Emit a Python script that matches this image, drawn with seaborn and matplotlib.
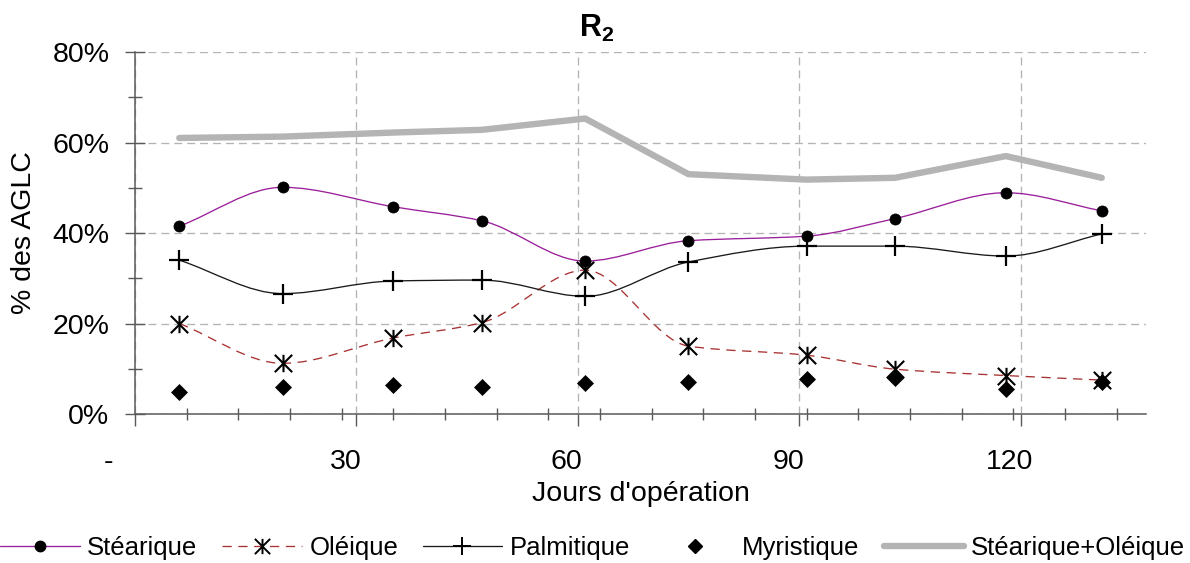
import numpy as np
import matplotlib
matplotlib.use("Agg")
import matplotlib.pyplot as plt
import matplotlib.transforms as mtransforms
from matplotlib.path import Path
from matplotlib.patches import PathPatch
from matplotlib.lines import Line2D
from matplotlib.ticker import FixedLocator, MultipleLocator, FuncFormatter
import seaborn as sns

# Sampling days and fatty-acid shares (% of total AGLC)
jours = [6, 20, 35, 47, 61, 75, 91, 103, 118, 131]
stearique = [41.5, 50.1, 45.8, 42.7, 33.8, 38.3, 39.3, 43.2, 48.9, 44.9]
oleique = [20.0, 11.2, 16.8, 20.2, 31.8, 15.0, 13.0, 9.9, 8.5, 7.5]
palmitique = [34.0, 26.6, 29.4, 29.6, 26.0, 33.6, 37.1, 37.1, 34.9, 39.8]
myristique = [4.9, 6.0, 6.4, 5.9, 6.8, 7.1, 7.7, 7.9, 5.5, 7.0]
stearique_oleique = [61.0, 61.3, 62.2, 62.8, 65.3, 53.0, 51.8, 52.2, 57.0, 52.2]

x_ticks = [0, 30, 60, 90, 120]
x_ticklabels = ["-", "30", "60", "90", "120"]
y_ticks = [0, 20, 40, 60, 80]

sns.set_style("white")
plt.rcParams["font.family"] = ["Liberation Sans", "DejaVu Sans"]
plt.rcParams["mathtext.fontset"] = "custom"
plt.rcParams["mathtext.rm"] = "Liberation Sans"
plt.rcParams["mathtext.bf"] = "Liberation Sans:bold"
plt.rcParams["text.color"] = "black"
plt.rcParams["axes.labelcolor"] = "black"
plt.rcParams["xtick.color"] = "black"
plt.rcParams["ytick.color"] = "black"

PURPLE = "#9a1f9a"
DARKRED = "#a83232"
GREY = "#b4b4b4"
AXIS = "#5a5a5a"

fig = plt.figure(figsize=(11.9, 5.63), dpi=100)
ax = fig.add_axes([0.11345, 0.26465, 0.8496, 0.64298])


def smooth_path(x, y):
    """Cubic Bezier path through the points, with shape-preserving tangents."""
    x = np.asarray(x, float)
    y = np.asarray(y, float)
    h = np.diff(x)
    d = np.diff(y) / h
    m = np.zeros_like(y)
    for i in range(1, len(y) - 1):
        if d[i - 1] * d[i] > 0:
            w1 = 2 * h[i] + h[i - 1]
            w2 = h[i] + 2 * h[i - 1]
            m[i] = (w1 + w2) / (w1 / d[i - 1] + w2 / d[i])
    m[0] = d[0]
    m[-1] = d[-1]
    verts = [(x[0], y[0])]
    codes = [Path.MOVETO]
    for i in range(len(x) - 1):
        verts += [(x[i] + h[i] / 3, y[i] + m[i] * h[i] / 3),
                  (x[i + 1] - h[i] / 3, y[i + 1] - m[i + 1] * h[i] / 3),
                  (x[i + 1], y[i + 1])]
        codes += [Path.CURVE4] * 3
    return Path(verts, codes)


asterisk = Path([(0, -1), (0, 1), (-1, -1), (1, 1), (-1, 1), (1, -1)],
                [Path.MOVETO, Path.LINETO, Path.MOVETO, Path.LINETO,
                 Path.MOVETO, Path.LINETO])

# Sum curve: thick grey straight segments
sns.lineplot(x=jours, y=stearique_oleique, color=GREY, lw=4.6, ax=ax,
             legend=False, zorder=2)

# Smoothed curves
ax.add_patch(PathPatch(smooth_path(jours, stearique), fc="none", ec=PURPLE,
                       lw=0.95, zorder=3))
ax.add_patch(PathPatch(smooth_path(jours, oleique), fc="none", ec=DARKRED,
                       lw=0.95, ls=(0, (7, 5)), zorder=3))
ax.add_patch(PathPatch(smooth_path(jours, palmitique), fc="none", ec="#1a1a1a",
                       lw=0.95, zorder=3))

# Markers
sns.lineplot(x=jours, y=stearique, ax=ax, legend=False, linestyle="none",
             marker="o", markersize=8, markerfacecolor="black",
             markeredgecolor="black", markeredgewidth=0.5, zorder=5)
sns.lineplot(x=jours, y=oleique, ax=ax, legend=False, linestyle="none",
             marker=asterisk, markersize=12.5, markerfacecolor="none",
             markeredgecolor="black", markeredgewidth=1.5, zorder=5)
sns.lineplot(x=jours, y=palmitique, ax=ax, legend=False, linestyle="none",
             marker="+", markersize=15, markeredgecolor="black",
             markeredgewidth=1.6, zorder=5)
sns.lineplot(x=jours, y=myristique, ax=ax, legend=False, linestyle="none",
             marker="D", markersize=8.5, markerfacecolor="black",
             markeredgecolor="black", markeredgewidth=0.5, zorder=5)

# Axes limits, ticks and grid
ax.set_xlim(0, 137)
ax.set_ylim(0, 80)
ax.xaxis.set_major_locator(FixedLocator(x_ticks))
ax.xaxis.set_minor_locator(MultipleLocator(7))
ax.set_xticklabels(x_ticklabels)
ax.yaxis.set_major_locator(FixedLocator(y_ticks))
ax.yaxis.set_minor_locator(MultipleLocator(10))
ax.yaxis.set_major_formatter(FuncFormatter(lambda v, p: f"{v:.0f}%"))

ax.grid(True, which="major", color="#b4b4b4", lw=0.95, ls=(0, (6, 3.8)))
ax.set_axisbelow(True)

for side in ("top", "right"):
    ax.spines[side].set_visible(False)
for side in ("left", "bottom"):
    ax.spines[side].set_color(AXIS)
    ax.spines[side].set_linewidth(1.1)

ax.tick_params(axis="y", which="both", left=True)
ax.tick_params(axis="x", which="both", bottom=True)
ax.tick_params(axis="y", which="major", direction="inout", length=15,
               width=1.0, color=AXIS, pad=11, labelsize=20.5, labelcolor="black")
ax.tick_params(axis="y", which="minor", direction="inout", length=9.5,
               width=1.0, color=AXIS)
ax.tick_params(axis="x", which="major", direction="out", length=8.5,
               width=1.0, color=AXIS, pad=17, labelsize=20.5, labelcolor="black")
ax.tick_params(axis="x", which="minor", direction="inout", length=8.5,
               width=1.0, color=AXIS)

ax.set_xlabel("Jours d'opération", fontsize=20.5, color="black")
ax.xaxis.set_label_coords(0.5, -0.221)
ax.xaxis.label.set_va("center")
ax.set_ylabel("% des AGLC", fontsize=20.5, color="black")
ax.yaxis.set_label_coords((24 - 135) / 1011, 0.5)
ax.yaxis.label.set_va("center")

fig.text(597 / 1190, 1 - 37 / 563, r"$\mathbf{R_2}$", ha="center",
         va="baseline", fontsize=22, color="black")

fig.canvas.draw()
shifts = {"-": -27, "30": -11, "60": -11, "90": -11, "120": -11}
for lab in ax.get_xticklabels():
    dx = shifts.get(lab.get_text(), 0)
    lab.set_transform(lab.get_transform() +
                      mtransforms.ScaledTranslation(dx / 100, 0, fig.dpi_scale_trans))

handles = [
    Line2D([], [], color=PURPLE, lw=0.95, marker="o", ms=7.5, mfc="black",
           mec="black"),
    Line2D([], [], color=DARKRED, lw=0.95, ls=(0, (7, 5)), marker=asterisk,
           ms=11, mfc="none", mec="black", mew=1.4),
    Line2D([], [], color="#1a1a1a", lw=0.95, marker="+", ms=13, mec="black",
           mew=1.4),
    Line2D([], [], ls="none", marker="D", ms=7, mfc="black", mec="black"),
    Line2D([], [], color=GREY, lw=4.6),
]
labels = ["Stéarique", "Oléique", "Palmitique", "Myristique", "Stéarique+Oléique"]
fig.legend(handles, labels, loc="center", bbox_to_anchor=(0.498, 1 - 548 / 563),
           ncol=5, frameon=False, fontsize=18.5, handlelength=3.1,
           handletextpad=0.3, columnspacing=0.95, borderpad=0, borderaxespad=0,
           labelcolor="black")

fig.savefig("out.png", dpi=100)
